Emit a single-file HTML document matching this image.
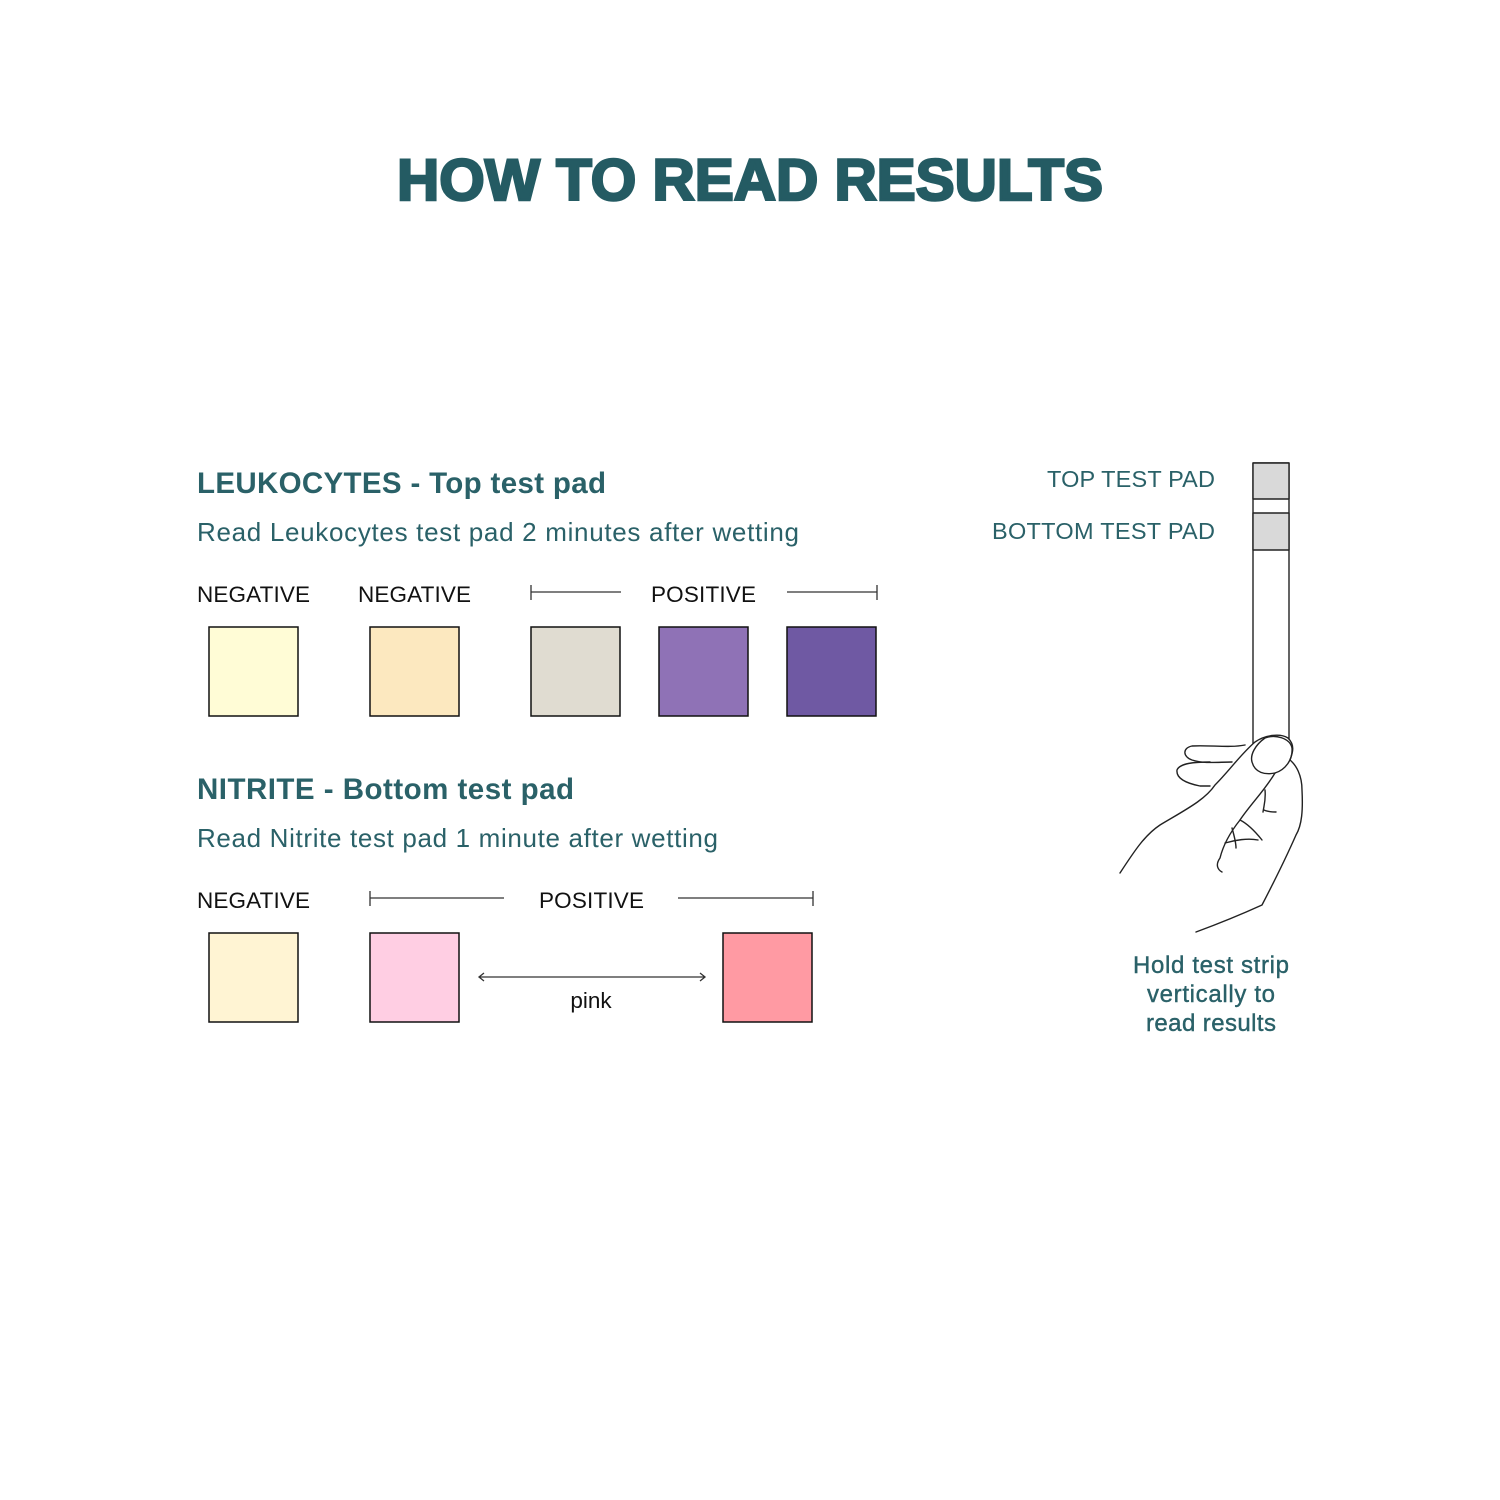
<!DOCTYPE html>
<html><head><style>
html,body{margin:0;padding:0;background:#fff;}
svg{display:block}
text{font-family:"Liberation Sans",Arial,sans-serif}
</style></head><body>
<svg width="1500" height="1500" viewBox="0 0 1500 1500" xmlns="http://www.w3.org/2000/svg">
<text x="397" y="200" textLength="706" lengthAdjust="spacingAndGlyphs" font-size="58" font-weight="900" fill="#245b63" stroke="#245b63" stroke-width="2.5">HOW TO READ RESULTS</text>

<g fill="#2a6168">
<text x="197" y="493" font-size="29.5" font-weight="bold" textLength="409">LEUKOCYTES - Top test pad</text>
<text x="197" y="541" font-size="26" textLength="602">Read Leukocytes test pad 2 minutes after wetting</text>
<text x="197" y="799" font-size="29.5" font-weight="bold" textLength="377">NITRITE - Bottom test pad</text>
<text x="197" y="847" font-size="26" textLength="521">Read Nitrite test pad 1 minute after wetting</text>
<text x="1047" y="487" font-size="23.5" textLength="168">TOP TEST PAD</text>
<text x="992" y="539" font-size="23.5" textLength="223">BOTTOM TEST PAD</text>
<g font-size="24" stroke="#2a6168" stroke-width="0.4">
<text x="1133" y="973" textLength="156">Hold test strip</text>
<text x="1147" y="1002" textLength="128">vertically to</text>
<text x="1146" y="1031" textLength="130">read results</text>
</g>
</g>

<g fill="#111" font-size="22.5">
<text x="197" y="602" textLength="113">NEGATIVE</text>
<text x="358" y="602" textLength="113">NEGATIVE</text>
<text x="651" y="602" textLength="105">POSITIVE</text>
<text x="197" y="908" textLength="113">NEGATIVE</text>
<text x="539" y="908" textLength="105">POSITIVE</text>
<text x="591" y="1008" text-anchor="middle">pink</text>
</g>

<g stroke="#333" stroke-width="1.3" fill="none">
<path d="M531 585V600M531 592H621M787 592H877M877 585V600"/>
<path d="M370 891V906M370 898H504M678 898H813M813 891V906"/>
<path d="M479 977H705M484 973L479 977L484 981M700 973L705 977L700 981"/>
</g>

<g stroke="#111" stroke-width="1.5">
<rect x="209" y="627" width="89" height="89" fill="#fffcd6"/>
<rect x="370" y="627" width="89" height="89" fill="#fce8bf"/>
<rect x="531" y="627" width="89" height="89" fill="#e0dcd1"/>
<rect x="659" y="627" width="89" height="89" fill="#8f72b6"/>
<rect x="787" y="627" width="89" height="89" fill="#6f59a3"/>
<rect x="209" y="933" width="89" height="89" fill="#fff4d3"/>
<rect x="370" y="933" width="89" height="89" fill="#ffcee3"/>
<rect x="723" y="933" width="89" height="89" fill="#ff9aa3"/>
</g>

<g stroke="#222" stroke-width="1.4" fill="none" stroke-linejoin="round" stroke-linecap="round">
<rect x="1253" y="463" width="36" height="290" fill="#fff"/>
<rect x="1253" y="463" width="36" height="36" fill="#d9d9d9"/>
<rect x="1253" y="513" width="36" height="37" fill="#d9d9d9"/>
<path d="M1120 873C1135 850 1145 835 1160 825C1185 810 1205 800 1215 785C1230 770 1240 755 1255 742C1265 735 1280 733 1288 738C1295 745 1293 752 1290 760" fill="#fff"/>
<path d="M1245 745C1230 748 1210 745 1192 746C1182 748 1183 757 1192 760C1205 764 1218 762 1232 762"/>
<path d="M1210 762C1195 762 1180 763 1177 770C1176 778 1185 783 1200 786C1205 786 1208 786 1210 786"/>
<path d="M1252 762C1250 755 1255 745 1265 738C1275 734 1290 738 1292 748C1293 760 1285 770 1275 773C1265 775 1255 773 1252 762Z"/>
<path d="M1290 760C1296 765 1302 775 1302 790C1303 810 1302 825 1296 835C1285 860 1275 880 1262 905C1240 915 1215 925 1196 932"/>
<path d="M1275 773C1265 790 1250 805 1240 820C1232 830 1224 842 1220 858C1215 865 1218 870 1222 872"/>
<path d="M1240 820C1250 825 1258 835 1262 840"/>
<path d="M1264 810C1268 812 1272 812 1276 812M1265 790C1266 800 1264 805 1263 812"/>
<path d="M1225 843C1235 840 1248 838 1258 840"/>
<path d="M1232 828C1234 835 1236 842 1236 848"/>
</g>
</svg>
</body></html>
